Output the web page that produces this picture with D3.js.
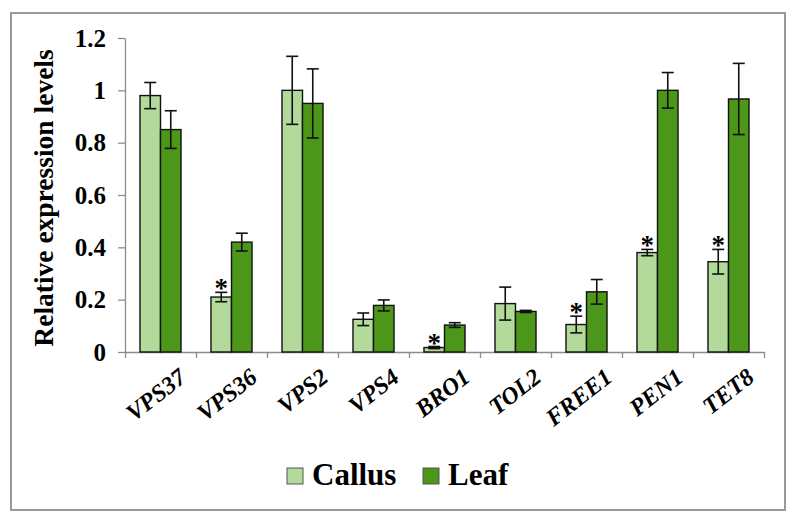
<!DOCTYPE html>
<html>
<head>
<meta charset="utf-8">
<script src="https://cdn.jsdelivr.net/npm/d3@7"></script>
<style>
  body { margin: 0; background: #fff; }
  svg { display: block; }
</style>
</head>
<body>
<div id="chart"></div>
<script>
// genes on the x axis
const genes = ["VPS37", "VPS36", "VPS2", "VPS4", "BRO1", "TOL2", "FREE1", "PEN1", "TET8"];
const series = ["Callus", "Leaf"];
// mean values
const callus = [0.98, 0.21, 1.0, 0.125, 0.017, 0.185, 0.105, 0.38, 0.345];
const leaf = [0.85, 0.42, 0.95, 0.178, 0.103, 0.155, 0.23, 1.0, 0.967];
// error bar half widths
const callusErr = [0.05, 0.018, 0.13, 0.024, 0.004, 0.063, 0.032, 0.012, 0.047];
const leafErr = [0.072, 0.034, 0.132, 0.021, 0.009, 0.004, 0.047, 0.068, 0.136];
// which callus bars carry a star
const starred = [false, true, false, false, true, false, true, true, true];
const yTicks = [0, 0.2, 0.4, 0.6, 0.8, 1, 1.2];

const colors = { Callus: "#b3da9b", Leaf: "#4c961a" };
const serif = "'Liberation Serif', 'DejaVu Serif', serif";

const width = 795, height = 520;
const svg = d3.select("#chart").append("svg")
  .attr("width", width).attr("height", height);

// outer frame
svg.append("rect")
  .attr("x", 11).attr("y", 13).attr("width", 774).attr("height", 497)
  .attr("fill", "none").attr("stroke", "#9a9a9a").attr("stroke-width", 2);

const x = d3.scaleBand().domain(genes).range([125, 764]).paddingInner(0).paddingOuter(0);
const xSub = d3.scaleBand().domain(series).range([0, x.bandwidth()]).paddingOuter(0.73);
const y = d3.scaleLinear().domain([0, 1.2]).range([352, 38]);

// y axis
const yAxis = svg.append("g")
  .attr("transform", "translate(125,0)")
  .call(d3.axisLeft(y).tickValues(yTicks).tickSize(7).tickSizeOuter(0).tickPadding(12)
    .tickFormat(d => String(+d.toFixed(1))));
yAxis.attr("font-family", serif);
yAxis.select(".domain").attr("stroke", "#8c8c8c").attr("stroke-width", 1.3);
yAxis.selectAll(".tick line").attr("stroke", "#8c8c8c").attr("stroke-width", 1.3);
yAxis.selectAll(".tick text")
  .attr("font-size", 25).attr("fill", "#000").attr("font-weight", "bold");

// x axis with ticks between groups
const xi = d3.scaleLinear().domain([0, genes.length]).range([125, 764]);
const xAxis = svg.append("g")
  .attr("transform", "translate(0,352)")
  .call(d3.axisBottom(xi).tickValues(d3.range(genes.length + 1)).tickSize(6).tickSizeOuter(0).tickFormat(""));
xAxis.select(".domain").attr("stroke", "#8c8c8c").attr("stroke-width", 1.3);
xAxis.selectAll(".tick line").attr("stroke", "#8c8c8c").attr("stroke-width", 1.3);

// gene labels
svg.append("g").selectAll("text")
  .data(genes)
  .enter().append("text")
  .attr("transform", d => `translate(${x(d) + x.bandwidth() / 2 + 16},${366}) rotate(-38)`)
  .attr("text-anchor", "end")
  .attr("dy", "0.75em")
  .attr("font-family", serif)
  .attr("font-weight", "bold")
  .attr("font-size", 24)
  .attr("font-style", "italic")
  .text(d => d);

// y label
svg.append("text")
  .attr("transform", "translate(53,198) rotate(-90)")
  .attr("text-anchor", "middle")
  .attr("font-family", serif)
  .attr("font-weight", "bold")
  .attr("font-size", 27.5)
  .text("Relative expression levels");

// bars
const rows = genes.map((g, i) => ({
  gene: g,
  vals: [
    { s: "Callus", v: callus[i], e: callusErr[i], star: starred[i] },
    { s: "Leaf", v: leaf[i], e: leafErr[i], star: false }
  ]
}));

const groups = svg.append("g").selectAll("g")
  .data(rows)
  .enter().append("g")
  .attr("transform", d => `translate(${x(d.gene)},0)`);

groups.selectAll("rect")
  .data(d => d.vals)
  .enter().append("rect")
  .attr("x", d => xSub(d.s))
  .attr("y", d => y(d.v))
  .attr("width", xSub.bandwidth())
  .attr("height", d => y(0) - y(d.v))
  .attr("fill", d => colors[d.s])
  .attr("stroke", "#111")
  .attr("stroke-width", 1.4);

// error bars
const eb = groups.selectAll("g.err")
  .data(d => d.vals)
  .enter().append("g").attr("class", "err")
  .attr("stroke", "#111").attr("stroke-width", 1.6);
eb.append("line")
  .attr("x1", d => xSub(d.s) + xSub.bandwidth() / 2)
  .attr("x2", d => xSub(d.s) + xSub.bandwidth() / 2)
  .attr("y1", d => y(d.v + d.e)).attr("y2", d => y(d.v - d.e));
eb.append("line")
  .attr("x1", d => xSub(d.s) + xSub.bandwidth() / 2 - 6)
  .attr("x2", d => xSub(d.s) + xSub.bandwidth() / 2 + 6)
  .attr("y1", d => y(d.v + d.e)).attr("y2", d => y(d.v + d.e));
eb.append("line")
  .attr("x1", d => xSub(d.s) + xSub.bandwidth() / 2 - 6)
  .attr("x2", d => xSub(d.s) + xSub.bandwidth() / 2 + 6)
  .attr("y1", d => y(d.v - d.e)).attr("y2", d => y(d.v - d.e));

// significance stars
groups.selectAll("text.star")
  .data(d => d.vals.filter(v => v.star))
  .enter().append("text").attr("class", "star")
  .attr("x", d => xSub(d.s) + xSub.bandwidth() / 2)
  .attr("y", d => y(d.v + d.e) + 5)
  .attr("text-anchor", "middle")
  .attr("font-family", serif)
  .attr("font-weight", "bold")
  .attr("font-size", 27)
  .text("*");

// legend
const legend = svg.append("g");
const legX = [287, 423];
series.forEach((s, i) => {
  legend.append("rect")
    .attr("x", legX[i]).attr("y", 468).attr("width", 16).attr("height", 16)
    .attr("fill", colors[s]).attr("stroke", "#555").attr("stroke-width", 1);
  legend.append("text")
    .attr("x", legX[i] + 25).attr("y", 485)
    .attr("font-family", serif)
    .attr("font-weight", "bold")
    .attr("font-size", 31)
    .text(s);
});
</script>
</body>
</html>
